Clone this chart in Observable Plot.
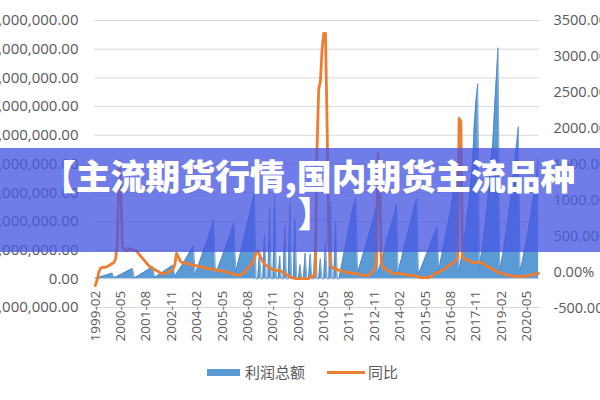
<!DOCTYPE html>
<html><head><meta charset="utf-8">
<script src="https://cdn.jsdelivr.net/npm/d3@7"></script>
<script src="https://cdn.jsdelivr.net/npm/@observablehq/plot@0.6"></script>
<style>
html,body{margin:0;padding:0;background:#fff;}
#wrap{position:relative;width:600px;height:400px;overflow:hidden;font-family:"Noto Sans CJK SC","Noto Sans",sans-serif;}
#chart svg{display:block;}
#legend{position:relative;height:48px;width:600px;}
.sw{position:absolute;}
.lt{position:absolute;font-size:15px;color:#595959;line-height:20px;top:10px;}
#banner{position:absolute;left:0;top:148px;width:600px;height:104px;background:rgba(72,88,225,0.78);color:#fff;font-weight:900;font-size:35px;text-align:center;line-height:37px;}
#banner div{position:relative;top:8px;left:8px;letter-spacing:-0.2px;}
#banner span{position:relative;left:7px;}
</style></head>
<body>
<div id="wrap">
  <div id="chart"></div>
  <div id="legend">
    <div class="sw" style="left:207px;top:17px;width:33px;height:7px;background:#5b9bd5"></div>
    <div class="lt" style="left:245px">利润总额</div>
    <div class="sw" style="left:327px;top:19px;width:38px;height:3px;background:#ed7d31"></div>
    <div class="lt" style="left:368px">同比</div>
  </div>
  <div id="banner"><div>【主流期货行情,国内期货主流品种<br><span>】</span></div></div>
</div>
<script>
// monthly series starting 1999-02
const startMonth = "1999-02";
// 利润总额, millions of yuan (cumulative within year)
const profit = [
  0.2,0.4,0.5,0.7,0.9,1.0,1.2,1.4,1.6,1.8,2.0,            // 1999 Feb-Dec
  0.3,0.6,0.9,1.2,1.5,1.8,2.1,2.4,2.7,3.0,3.3,3.6,        // 2000
  0.3,0.6,1.0,1.3,1.7,2.0,2.4,2.8,3.1,3.5,3.9,4.3,        // 2001
  0.4,0.8,1.2,1.6,2.0,2.4,2.8,3.2,3.6,4.0,4.4,4.8,        // 2002
  0.9,1.8,2.7,3.6,4.5,5.5,6.5,7.5,8.5,9.6,10.6,11.5,      // 2003
  1.6,3.2,4.8,6.5,8.2,9.8,11.5,13.2,14.9,16.7,18.6,20.5,  // 2004
  1.5,3.0,4.6,6.2,7.8,9.4,11.0,12.7,14.4,16.1,17.8,19.5,  // 2005
  2.4,4.8,7.2,9.6,12.0,14.5,17.0,19.5,22.0,24.6,27.1,29.6,// 2006
  0,0,9,0,0,15.5,0,0,24.5,0,0,30,                         // 2007
  0,0,8,0,0,18.5,0,0,26.5,0,0,21,                         // 2008
  0,0,5,0,0,9,0,0,8.7,0,0,16,                             // 2009
  0,0,7,0,0,13,0,0,27,0,0,20,                             // 2010
  0,0,3,6,9,12,15,18,21,24,26,28,                         // 2011
  2,4,6,8,10,12,14,16,18,20,22,25,                        // 2012
  2,4,6,8,10,13,15,17,19,21,23,26,                        // 2013
  2,5,7,10,12,14,17,19,21,24,26,28,                       // 2014
  1.5,3,4.5,6,7.5,9,10.5,12,13.5,15,16.5,18,              // 2015
  3,6,9,12,15,18,21,24,28,32,36,40,                       // 2016
  3,6,10,14,18,23,28,34,41,54,62,68,                      // 2017
  4,8,12,17,22,28,35,42,48,60,70,80.5,                    // 2018
  3,6,9,13,17,21,26,31,36,42,47,53,                       // 2019
  3,5,8,11,14,17,21,25,29,33,37,42                        // 2020
];
// 同比, percent
const yoy = [
  -180,-110,0,55,70,70,70,85,95,110,125,                  // 1999
  140,195,400,1550,1250,350,335,305,305,320,335,320,      // 2000
  305,305,280,250,220,195,165,140,110,85,70,55,           // 2001
  40,30,15,0,-15,-15,-15,0,0,15,30,55,                    // 2002
  110,265,220,165,140,140,125,125,125,110,110,95,         // 2003
  95,95,85,85,70,70,70,55,55,55,40,40,                    // 2004
  40,30,30,30,15,15,15,0,0,-15,-15,-30,                   // 2005
  -30,-30,-40,-30,-15,0,15,55,85,110,140,195,             // 2006
  280,305,250,195,150,125,95,85,70,55,40,30,              // 2007
  30,30,30,15,0,-15,-30,-40,-55,-70,-70,-85,              // 2008
  -85,-85,-85,-85,-85,-85,-85,-85,-70,-55,-40,-40,        // 2009
  1700,2550,2650,3100,3320,3320,2000,400,100,70,55,55,    // 2010
  40,30,30,15,15,0,0,0,0,-15,-15,-15,                     // 2011
  -15,-30,-30,-40,-40,-40,-40,-30,-15,15,55,140,          // 2012
  1650,1300,140,70,55,40,30,15,0,-15,-15,-15,             // 2013
  -15,-15,-15,-30,-30,-30,-40,-40,-40,-40,-55,-55,        // 2014
  -55,-70,-70,-70,-70,-70,-70,-55,-40,-30,-15,0,          // 2015
  0,15,30,40,55,85,95,110,125,140,165,195,                // 2016
  2140,2100,200,195,180,165,165,150,140,140,140,140,      // 2017
  140,140,125,110,95,85,70,55,40,30,15,0,                 // 2018
  0,-15,-15,-30,-30,-40,-40,-40,-55,-55,-55,-55,          // 2019
  -55,-55,-55,-55,-40,-40,-40,-30,-30,-15,-15,-15         // 2020
];
const tickLabels = ["1999-02","2000-05","2001-08","2002-11","2004-02","2005-05","2006-08","2007-11","2009-02","2010-05","2011-08","2012-11","2014-02","2015-05","2016-08","2017-11","2019-02","2020-05"];
const leftTicks = [-10,0,10,20,30,40,50,60,70,80,90];     // millions
const rightTicks = [-500,0,500,1000,1500,2000,2500,3000,3500]; // percent

const [sy, sm] = startMonth.split("-").map(Number);
const monthIndex = s => { const [y, m] = s.split("-").map(Number); return (y - sy) * 12 + (m - sm); };
const rows = profit.map((v, i) => ({i, v, p: yoy[i]}));
// right axis (percent) expressed in left-axis units
const yr = d3.scaleLinear().domain([-500, 3500]).range([-10.35, 90]);
const fmtL = d => d3.format(",.2f")(d * 1e6).replace("−", "-");
const fmtR = d => d3.format(".2f")(d).replace("−", "-") + "%";
const n = profit.length;
const axisFont = '"Open Sans","Noto Sans",sans-serif';

const chart = Plot.plot({
  width: 600, height: 352,
  marginLeft: 94, marginRight: 61, marginTop: 20, marginBottom: 45,
  x: {domain: [-0.5, n - 0.5], axis: null},
  y: {domain: [-10, 90], axis: null},
  style: {fontFamily: axisFont, background: "transparent", overflow: "visible"},
  marks: [
    Plot.ruleY(leftTicks, {stroke: "#d9d9d9", strokeWidth: 1}),
    Plot.areaY(rows, {x: "i", y: "v", fill: "#5b9bd5", curve: "linear"}),
    Plot.lineY(rows, {x: "i", y: "v", stroke: "#4a7fc0", strokeWidth: 0.7}),
    Plot.lineY(rows, {x: "i", y: d => yr(d.p), stroke: "#ed7d31", strokeWidth: 2.8, strokeLinejoin: "round"}),
    Plot.text(leftTicks, {frameAnchor: "left", y: d => d, text: fmtL, textAnchor: "end", dx: -16, fill: "#595959", fontSize: 15}),
    Plot.text(rightTicks, {frameAnchor: "right", y: d => yr(d), text: fmtR, textAnchor: "start", dx: 14, fill: "#595959", fontSize: 14.5}),
    Plot.text(tickLabels, {x: d => monthIndex(d), y: 0, text: d => d, rotate: -90, textAnchor: "end", dy: 12, fill: "#595959", fontSize: 13.5})
  ]
});
document.getElementById("chart").appendChild(chart);
</script>
</body></html>
